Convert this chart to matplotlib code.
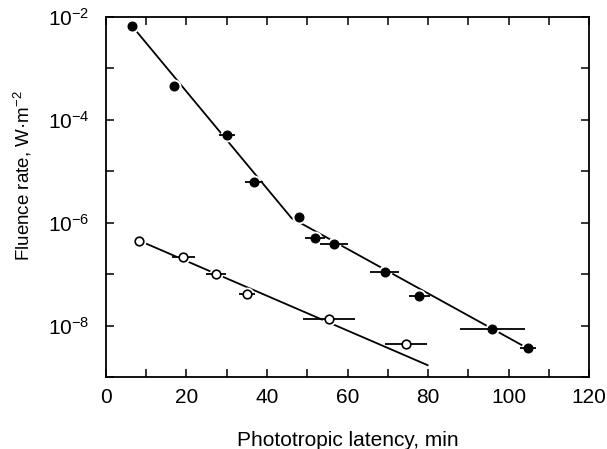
import numpy as np
import matplotlib
matplotlib.use("Agg")
import matplotlib.pyplot as plt
from matplotlib.ticker import FixedLocator, NullLocator, FixedFormatter

plt.rcParams['font.family'] = ['Liberation Sans', 'DejaVu Sans']
plt.rcParams['mathtext.fontset'] = 'custom'
plt.rcParams['mathtext.rm'] = 'Liberation Sans'
plt.rcParams['mathtext.it'] = 'Liberation Sans'
plt.rcParams['mathtext.bf'] = 'Liberation Sans'

# Filled circles
fx = [6.5, 16.9, 30.0, 36.8, 48.0, 51.9, 56.7, 69.3, 77.8, 96.0, 104.9]
fy_log = [-2.17, -3.34, -4.29, -5.20, -5.88, -6.29, -6.41, -6.96, -7.43, -8.07, -8.43]
fxerr = [0.0, 0.0, 2.0, 2.2, 0.8, 2.5, 3.5, 3.6, 2.6, 8.0, 2.0]

# Open circles
ox = [8.3, 19.2, 27.3, 35.0, 55.4, 74.5]
oy_log = [-6.35, -6.67, -6.99, -7.38, -7.88, -8.36]
oxerr = [0.0, 2.9, 2.5, 2.0, 6.4, 5.3]

# Fitted lines (x, log10 y)
fit_filled_x = [7.6, 46.1, 103.3]
fit_filled_y = [-2.28, -5.91, -8.38]
fit_open_x = [8.3, 79.9]
fit_open_y = [-6.35, -8.77]

fy = 10.0 ** np.array(fy_log)
oy = 10.0 ** np.array(oy_log)

fig = plt.figure(figsize=(6.07, 4.49), dpi=100)
ax = fig.add_axes([0.1746, 0.1604, 0.7958, 0.8016])

ax.plot(fit_filled_x, 10.0 ** np.array(fit_filled_y), color='black', lw=1.3, zorder=1)
ax.plot(fit_open_x, 10.0 ** np.array(fit_open_y), color='black', lw=1.3, zorder=1)

# white halos to create gaps in the fit lines
ax.plot(fx, fy, 'o', ms=9, color='white', mec='white', zorder=2)
ax.plot(ox, oy, 'o', ms=9, color='white', mec='white', zorder=2)

ax.errorbar(fx, fy, xerr=fxerr, fmt='none', ecolor='black', elinewidth=1.3, capsize=0, zorder=3)
ax.errorbar(ox, oy, xerr=oxerr, fmt='none', ecolor='black', elinewidth=1.3, capsize=0, zorder=3)

ax.plot(fx, fy, 'o', ms=6.2, color='black', mec='black', zorder=4)
ax.plot(ox, oy, 'o', ms=6.2, color='white', mec='black', mew=1.2, zorder=4)

ax.set_yscale('log')
ax.set_xlim(0, 120)
ax.set_ylim(1e-9, 1e-2)

ax.xaxis.set_major_locator(FixedLocator(np.arange(0, 121, 10)))
ax.xaxis.set_major_formatter(FixedFormatter(['0', '', '20', '', '40', '', '60', '', '80', '', '100', '', '120']))
ax.xaxis.set_minor_locator(NullLocator())
yt = [10.0 ** k for k in range(-9, -1)]
ax.yaxis.set_major_locator(FixedLocator(yt))
ylabels = ['' if k % 2 else '$10^{-%d}$' % (-k) for k in range(-9, -1)]
ax.yaxis.set_major_formatter(FixedFormatter(ylabels))
ax.yaxis.set_minor_locator(NullLocator())

ax.tick_params(direction='in', length=6, width=1.1, top=True, right=True, labelsize=15)
ax.tick_params(axis='x', pad=8)
ax.tick_params(axis='y', pad=12)
for s in ax.spines.values():
    s.set_linewidth(1.3)

ax.set_xlabel('Phototropic latency, min', fontsize=15, labelpad=17)
ax.set_ylabel('Fluence rate, W\u00b7m$^{-2}$', fontsize=13.5)
ax.yaxis.set_label_coords(-0.15, 0.56)

fig.savefig('out.png', dpi=100)
